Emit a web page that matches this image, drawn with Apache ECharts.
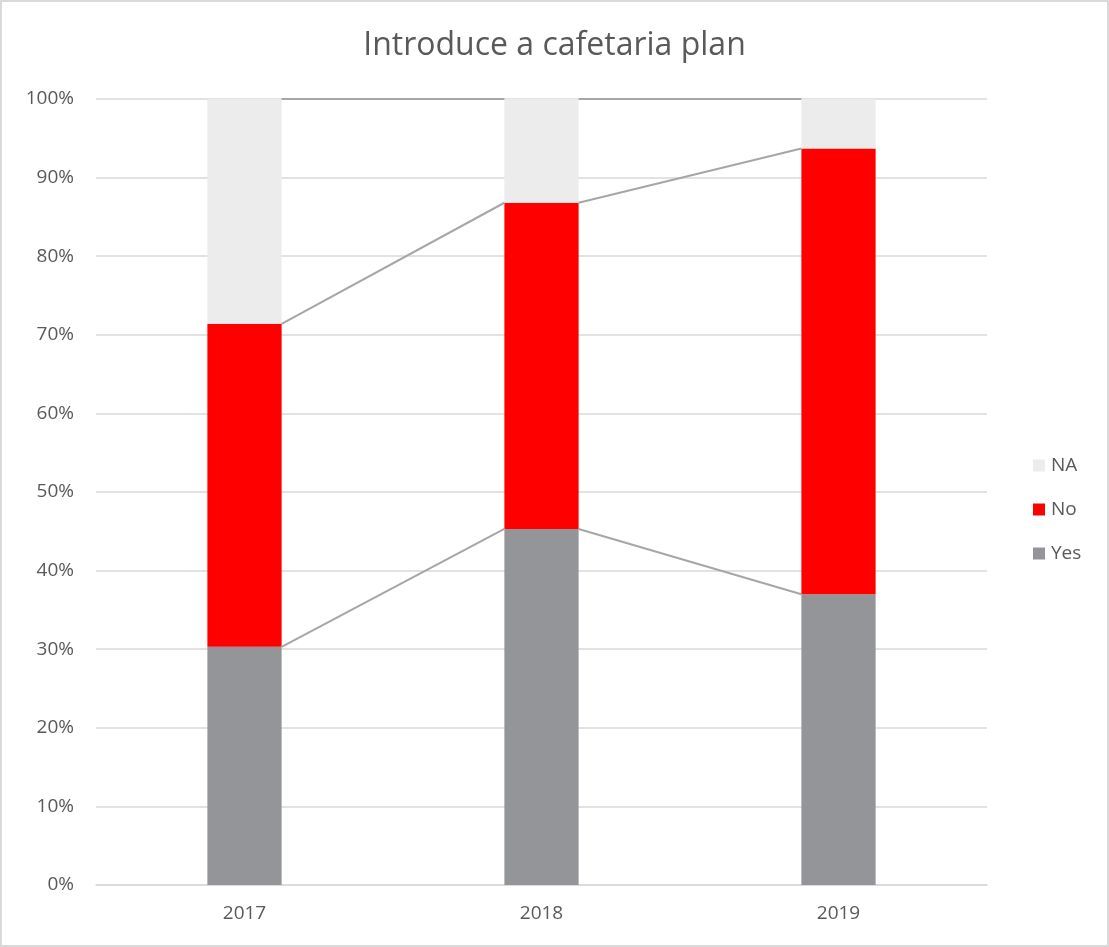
<!DOCTYPE html>
<html>
<head>
<meta charset="utf-8">
<script src="https://cdn.jsdelivr.net/npm/echarts@6/dist/echarts.min.js"></script>
<style>
  html, body { margin: 0; padding: 0; background: #fff; }
  #chart { width: 1109px; height: 947px; box-sizing: border-box; border: 2px solid #d9d9d9; }
</style>
</head>
<body>
<div id="chart"></div>
<script>
// Survey answers per year, as percentages of respondents
const years = ['2017', '2018', '2019'];
const yesValues = [30.3, 45.3, 37.0];
const noValues = [41.1, 41.5, 56.7];
const naValues = [28.6, 13.2, 6.3];
const yTicks = [0, 10, 20, 30, 40, 50, 60, 70, 80, 90, 100];

const FONT = '"Open Sans", "Noto Sans", sans-serif';
const TEXT = '#595959';
const BAR_RATIO = 0.25;

// Cumulative top of each stacked segment, used for the connector lines
const levels = [
  yesValues,
  yesValues.map((v, i) => v + noValues[i]),
  yesValues.map((v, i) => v + noValues[i] + naValues[i])
];

const chart = echarts.init(document.getElementById('chart'), null, { renderer: 'canvas' });

chart.setOption({
  animation: false,
  backgroundColor: '#fff',
  title: {
    text: 'Introduce a cafetaria plan',
    left: 'center',
    top: 23,
    textStyle: { fontFamily: FONT, fontSize: 32, fontWeight: 'normal', color: TEXT }
  },
  legend: {
    orient: 'vertical',
    left: 1026,
    top: 449,
    itemWidth: 12,
    itemHeight: 12,
    itemGap: 25,
    icon: 'rect',
    data: ['NA', 'No', 'Yes'],
    textStyle: { fontFamily: FONT, fontSize: 19, color: TEXT, padding: [0, 0, 0, 1] }
  },
  grid: { left: 94, right: 120, top: 97, bottom: 60, containLabel: false },
  xAxis: {
    type: 'category',
    data: years,
    axisTick: { show: false },
    axisLine: { show: true, lineStyle: { color: '#d9d9d9', width: 1.5 } },
    axisLabel: { fontFamily: FONT, fontSize: 19, color: TEXT, margin: 19 }
  },
  yAxis: {
    type: 'value',
    min: 0,
    max: 100,
    interval: 10,
    axisLine: { show: false },
    axisTick: { show: false },
    splitLine: { lineStyle: { color: '#d9d9d9', width: 1.5 } },
    axisLabel: {
      fontFamily: FONT, fontSize: 19, color: TEXT, margin: 22,
      formatter: v => (yTicks.indexOf(v) >= 0 ? v + '%' : '')
    }
  },
  series: [
    {
      name: 'Yes', type: 'bar', stack: 'total', barWidth: (BAR_RATIO * 100) + '%',
      itemStyle: { color: '#939598' }, data: yesValues
    },
    {
      name: 'No', type: 'bar', stack: 'total',
      itemStyle: { color: '#ff0000' }, data: noValues
    },
    {
      name: 'NA', type: 'bar', stack: 'total',
      itemStyle: { color: '#ececec' }, data: naValues
    },
    {
      // Series lines joining the segment tops of neighbouring columns
      type: 'custom',
      silent: true,
      z: 5,
      data: years.slice(0, -1).map((_, i) => [i]),
      encode: { x: 0 },
      renderItem: function (params, api) {
        const i = api.value(0);
        const half = api.size([1, 0])[0] * BAR_RATIO / 2;
        const children = levels.map(level => {
          const a = api.coord([i, level[i]]);
          const b = api.coord([i + 1, level[i + 1]]);
          return {
            type: 'line',
            shape: { x1: a[0] + half, y1: a[1], x2: b[0] - half, y2: b[1] },
            style: { stroke: '#a6a6a6', lineWidth: 2 }
          };
        });
        return { type: 'group', children: children };
      }
    }
  ]
});
</script>
</body>
</html>
